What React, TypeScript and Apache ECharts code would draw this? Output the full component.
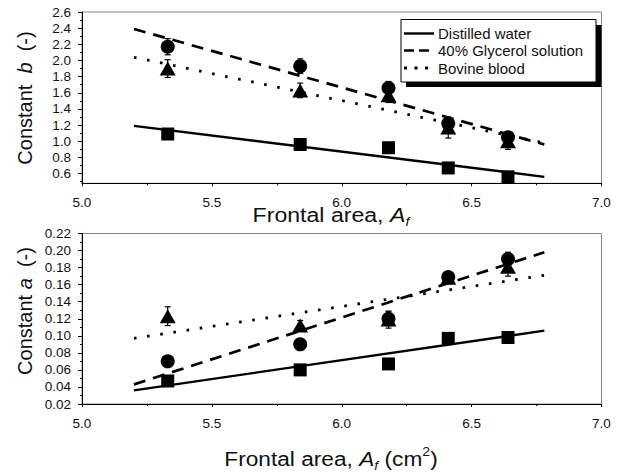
import React, { useEffect, useRef } from "react";
import * as echarts from "echarts";

const FONT = "'Liberation Sans', Arial, Helvetica, sans-serif";

// ---- data ----
const seriesNames = ["Distilled water", "40% Glycerol solution", "Bovine blood"];
const areaX = [5.33, 5.84, 6.18, 6.41, 6.64];

// constant b (top panel)
const waterB = [1.09, 0.96, 0.92, 0.67, 0.56];
const glycerolB = [2.17, 1.93, 1.66, 1.22, 1.05];
const bloodB = [1.9, 1.63, 1.57, 1.17, 1.0];
const waterBErr = [0.03, 0.03, 0.03, 0.03, 0.03];
const glycerolBErr = [0.1, 0.09, 0.08, 0.07, 0.06];
const bloodBErr = [0.11, 0.09, 0.09, 0.13, 0.1];

// constant a (bottom panel)
const waterA = [0.047, 0.06, 0.067, 0.097, 0.098];
const glycerolA = [0.07, 0.09, 0.12, 0.169, 0.19];
const bloodA = [0.123, 0.112, 0.119, 0.168, 0.181];
const waterAErr = [0.002, 0.002, 0.002, 0.002, 0.002];
const glycerolAErr = [0.004, 0.004, 0.008, 0.006, 0.008];
const bloodAErr = [0.011, 0.006, 0.01, 0.006, 0.011];

// fitted lines (endpoints)
const fitX = [5.2, 6.78];
const waterFitB = [1.19, 0.56];
const glycerolFitB = [2.39, 0.96];
const bloodFitB = [2.04, 0.98];
const waterFitA = [0.036, 0.106];
const glycerolFitA = [0.043, 0.198];
const bloodFitA = [0.097, 0.171];

// axis ticks
const bTicks = [0.6, 0.8, 1.0, 1.2, 1.4, 1.6, 1.8, 2.0, 2.2, 2.4, 2.6];
const bMinorTicks = [0.5, 0.7, 0.9, 1.1, 1.3, 1.5, 1.7, 1.9, 2.1, 2.3, 2.5];

const zip = (xs: number[], ys: number[]) => xs.map((x, i) => [x, ys[i]]);
const zip3 = (xs: number[], ys: number[], es: number[]) => xs.map((x, i) => [x, ys[i], es[i]]);

function measure(text: string, size: number, italic?: boolean) {
  const c = document.createElement("canvas").getContext("2d")!;
  c.font = `${italic ? "italic " : ""}${size}px ${FONT}`;
  return c.measureText(text).width;
}

type Seg = { t: string; size: number; italic?: boolean; dy?: number };
function textLine(segs: Seg[], cx: number, cy: number, rotation = 0, scaleX = 1) {
  const widths = segs.map((s) => measure(s.t, s.size, s.italic));
  const total = widths.reduce((a, b) => a + b, 0);
  let x = -total / 2;
  const children = segs.map((s, i) => {
    const el = {
      type: "text",
      x,
      y: s.dy ?? 0,
      style: {
        text: s.t,
        fontSize: s.size,
        fontFamily: FONT,
        fontStyle: s.italic ? "italic" : "normal",
        fill: "#111",
        align: "left",
        verticalAlign: "middle",
        textAlign: "left",
        textVerticalAlign: "middle",
      },
    };
    x += widths[i];
    return el;
  });
  return { type: "group", x: cx, y: cy, rotation, scaleX, children, z: 100 };
}

function errorSeries(xi: number, yi: number, data: number[][]) {
  return {
    type: "custom",
    xAxisIndex: xi,
    yAxisIndex: yi,
    encode: { x: 0, y: 1 },
    data,
    z: 3,
    silent: true,
    renderItem: (_p: any, api: any) => {
      const x = api.value(0);
      const y = api.value(1);
      const e = api.value(2);
      const top = api.coord([x, y + e]);
      const bot = api.coord([x, y - e]);
      const cw = 3;
      const st = { stroke: "#000", lineWidth: 1.2 };
      return {
        type: "group",
        children: [
          { type: "line", shape: { x1: top[0], y1: top[1], x2: bot[0], y2: bot[1] }, style: st },
          { type: "line", shape: { x1: top[0] - cw, y1: top[1], x2: top[0] + cw, y2: top[1] }, style: st },
          { type: "line", shape: { x1: bot[0] - cw, y1: bot[1], x2: bot[0] + cw, y2: bot[1] }, style: st },
        ],
      };
    },
  };
}

function scatter(xi: number, yi: number, data: number[][], symbol: string, size: any) {
  return {
    type: "scatter",
    xAxisIndex: xi,
    yAxisIndex: yi,
    symbol,
    symbolSize: size,
    itemStyle: { color: "#000", opacity: 1 },
    data,
    z: 5,
    silent: true,
  };
}

function fit(xi: number, yi: number, data: number[][], type: any, width: number) {
  return {
    type: "line",
    xAxisIndex: xi,
    yAxisIndex: yi,
    data,
    symbol: "none",
    showSymbol: false,
    lineStyle: { color: "#000", width, type },
    z: 4,
    silent: true,
  };
}

const labelStyle = { fontSize: 13.5, color: "#111", fontFamily: FONT };

function xAxis(gridIndex: number) {
  return {
    type: "value",
    gridIndex,
    min: 5,
    max: 7,
    interval: 0.5,
    axisLine: { show: true, onZero: false, lineStyle: { color: "#000", width: 1 } },
    axisTick: { show: true, inside: false, length: 3, lineStyle: { color: "#000" } },
    minorTick: { show: true, splitNumber: 2, length: 2, lineStyle: { color: "#000" } },
    axisLabel: { ...labelStyle, margin: 12, showMinLabel: true, showMaxLabel: true, formatter: (v: number) => v.toFixed(1) },
    splitLine: { show: false },
    minorSplitLine: { show: false },
  };
}

export default function App() {
  const ref = useRef<HTMLDivElement>(null);
  useEffect(() => {
    if (!ref.current) return;
    const chart = echarts.init(ref.current, undefined, { renderer: "svg" });
    const option: any = {
      animation: false,
      backgroundColor: "#fff",
      grid: [
        { left: 82, right: 22.5, top: 12, height: 171.3, show: true, borderColor: "#888", borderWidth: 1, containLabel: false, outerBoundsMode: "none" },
        { left: 82, right: 22.5, top: 233.5, height: 170.5, show: true, borderColor: "#888", borderWidth: 1, containLabel: false, outerBoundsMode: "none" },
      ],
      xAxis: [xAxis(0), xAxis(1)],
      yAxis: [
        {
          type: "value",
          gridIndex: 0,
          position: "left",
          min: 0.48,
          max: 2.6,
          axisLine: { show: true, onZero: false, lineStyle: { color: "#000", width: 1 } },
          axisTick: { show: true, length: 4, customValues: bTicks, lineStyle: { color: "#000" } },
          axisLabel: { ...labelStyle, margin: 11, customValues: bTicks, formatter: (v: number) => v.toFixed(1) },
          splitLine: { show: false },
        },
        {
          type: "value",
          gridIndex: 0,
          position: "left",
          min: 0.48,
          max: 2.6,
          axisLine: { show: false },
          axisTick: { show: true, length: 2, customValues: bMinorTicks, lineStyle: { color: "#000" } },
          axisLabel: { show: false },
          splitLine: { show: false },
        },
        {
          type: "value",
          gridIndex: 1,
          position: "left",
          min: 0.02,
          max: 0.22,
          interval: 0.02,
          axisLine: { show: true, onZero: false, lineStyle: { color: "#000", width: 1 } },
          axisTick: { show: true, length: 4, lineStyle: { color: "#000" } },
          minorTick: { show: true, splitNumber: 2, length: 2, lineStyle: { color: "#000" } },
          axisLabel: { ...labelStyle, margin: 11, showMinLabel: true, showMaxLabel: true, formatter: (v: number) => v.toFixed(2) },
          splitLine: { show: false },
          minorSplitLine: { show: false },
        },
      ],
      series: [
        // top panel: constant b
        fit(0, 0, zip(fitX, waterFitB), "solid", 2.4),
        fit(0, 0, zip(fitX, glycerolFitB), [12, 8], 2.7),
        fit(0, 0, zip(fitX, bloodFitB), [2.6, 10.7], 2.8),
        errorSeries(0, 0, zip3(areaX, waterB, waterBErr)),
        errorSeries(0, 0, zip3(areaX, glycerolB, glycerolBErr)),
        errorSeries(0, 0, zip3(areaX, bloodB, bloodBErr)),
        scatter(0, 0, zip(areaX, waterB), "rect", 13),
        scatter(0, 0, zip(areaX, glycerolB), "circle", 14),
        scatter(0, 0, zip(areaX, bloodB), "triangle", [16, 14]),
        // bottom panel: constant a
        fit(1, 2, zip(fitX, waterFitA), "solid", 2.4),
        fit(1, 2, zip(fitX, glycerolFitA), [12, 8], 2.7),
        fit(1, 2, zip(fitX, bloodFitA), [2.6, 10.7], 2.8),
        errorSeries(1, 2, zip3(areaX, waterA, waterAErr)),
        errorSeries(1, 2, zip3(areaX, glycerolA, glycerolAErr)),
        errorSeries(1, 2, zip3(areaX, bloodA, bloodAErr)),
        scatter(1, 2, zip(areaX, waterA), "rect", 13),
        scatter(1, 2, zip(areaX, glycerolA), "circle", 14),
        scatter(1, 2, zip(areaX, bloodA), "triangle", [16, 14]),
      ],
      graphic: [
        // legend box with shadow
        { type: "rect", z: 100, shape: { x: 406, y: 25, width: 195.5, height: 62 }, style: { fill: "#000" } },
        { type: "rect", z: 101, shape: { x: 401, y: 19.5, width: 195, height: 62.5 }, style: { fill: "#fff", stroke: "#000", lineWidth: 1 } },
        { type: "line", z: 102, shape: { x1: 404, y1: 33.5, x2: 434, y2: 33.5 }, style: { stroke: "#000", lineWidth: 2.4 } },
        { type: "line", z: 102, shape: { x1: 404, y1: 50.5, x2: 434, y2: 50.5 }, style: { stroke: "#000", lineWidth: 2.7, lineDash: [10, 5] } },
        { type: "line", z: 102, shape: { x1: 404, y1: 68, x2: 434, y2: 68 }, style: { stroke: "#000", lineWidth: 2.8, lineDash: [3, 7.5] } },
        ...seriesNames.map((name, i) => ({
          type: "text",
          z: 102,
          x: 438,
          y: [33.5, 50.5, 68][i],
          style: { text: name, fontSize: 15, fontFamily: FONT, fill: "#111", align: "left", verticalAlign: "middle", textAlign: "left", textVerticalAlign: "middle" },
        })),
        // axis titles
        textLine(
          [
            { t: "Frontal area, ", size: 21 },
            { t: "A", size: 21, italic: true },
            { t: "f", size: 13, italic: true, dy: 7 },
          ],
          331,
          215,
          0,
          1.1
        ),
        textLine(
          [
            { t: "Frontal area, ", size: 21 },
            { t: "A", size: 21, italic: true },
            { t: "f", size: 13, italic: true, dy: 7 },
            { t: " (cm", size: 21 },
            { t: "2", size: 13, dy: -7 },
            { t: ")", size: 21 },
          ],
          331,
          459,
          0,
          1.08
        ),
        textLine(
          [
            { t: "Constant  ", size: 20 },
            { t: "b", size: 20, italic: true },
            { t: "  (-)", size: 20 },
          ],
          25,
          98,
          Math.PI / 2
        ),
        textLine(
          [
            { t: "Constant ", size: 20 },
            { t: "a", size: 20, italic: true },
            { t: "  (-)", size: 20 },
          ],
          25,
          311,
          Math.PI / 2
        ),
      ],
    };
    chart.setOption(option);
    return () => chart.dispose();
  }, []);
  return <div ref={ref} style={{ position: "absolute", left: 0, top: 0, width: 624, height: 472, background: "#fff" }} />;
}
